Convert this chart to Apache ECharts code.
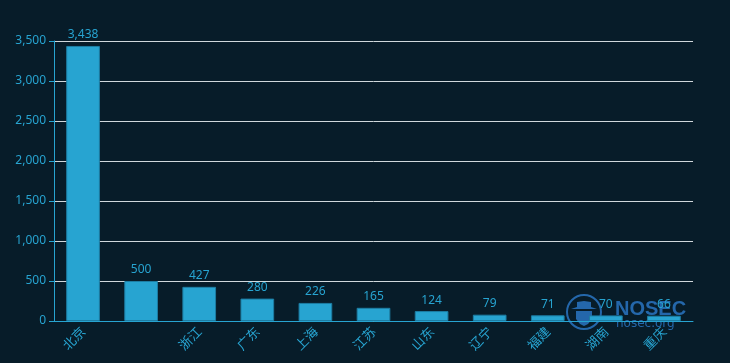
<!DOCTYPE html>
<html><head><meta charset="utf-8">
<script src="https://cdn.jsdelivr.net/npm/echarts@6/dist/echarts.min.js"></script>
<style>html,body{margin:0;padding:0;background:#071c29}#c{width:730px;height:363px}</style>
</head><body><div id="c"></div>
<script>
const categories = ['北京', '', '浙江', '广东', '上海', '江苏', '山东', '辽宁', '福建', '湖南', '重庆'];
const values = [3438, 500, 427, 280, 226, 165, 124, 79, 71, 70, 66];
const yTicks = {min: 0, max: 3500, interval: 500};
const blue = '#27a4d1';
const mark = 'rgba(40,112,185,0.9)';
const fmt = v => v.toString().replace(/\B(?=(\d{3})+(?!\d))/g, ',');
const chart = echarts.init(document.getElementById('c'));
chart.setOption({
  backgroundColor: '#071c29',
  animation: false,
  textStyle: {fontFamily: 'Noto Sans'},
  grid: {left: 54, right: 37, top: 41, bottom: 42, containLabel: false},
  xAxis: {
    type: 'category', data: categories,
    axisLine: {lineStyle: {color: blue}},
    axisTick: {alignWithLabel: true, lineStyle: {color: blue}},
    axisLabel: {color: blue, rotate: 45, fontSize: 13, interval: 0, fontFamily: 'Noto Sans CJK SC'}
  },
  yAxis: {
    type: 'value', min: yTicks.min, max: yTicks.max, interval: yTicks.interval,
    axisLine: {show: true, lineStyle: {color: blue}},
    axisTick: {show: true, lineStyle: {color: blue}},
    axisLabel: {color: blue, fontSize: 12, fontFamily: 'Noto Sans', formatter: fmt},
    splitLine: {lineStyle: {color: '#d0d8dc'}}
  },
  series: [{
    type: 'bar', data: values, barWidth: '58%',
    itemStyle: {color: blue, borderColor: '#1d7da3', borderWidth: 1},
    label: {show: true, position: 'top', color: blue, fontSize: 12, fontFamily: 'Noto Sans', formatter: p => fmt(p.value)}
  }],
  graphic: [{
    type: 'group', x: 566, y: 294, silent: true, z: 100,
    children: [
      {type: 'circle', shape: {cx: 18, cy: 18, r: 17}, style: {fill: 'none', stroke: mark, lineWidth: 2}},
      {type: 'polygon', shape: {points: [[5,15],[11,13],[11,8],[18,7],[25,8],[25,13],[31,15]]}, style: {fill: mark}},
      {type: 'polygon', shape: {points: [[10,17],[26,17],[26,25],[22,30],[18,32],[14,30],[10,25]]}, style: {fill: mark}},
      {type: 'text', style: {x: 49, y: 5, text: 'NOSEC', fill: mark, font: 'bold 20px "Liberation Sans Narrow", "Liberation Sans"'}},
      {type: 'text', style: {x: 50, y: 24, text: 'nosec.org', fill: mark, font: '12px "DejaVu Sans"'}}
    ]
  }]
});
</script></body></html>
